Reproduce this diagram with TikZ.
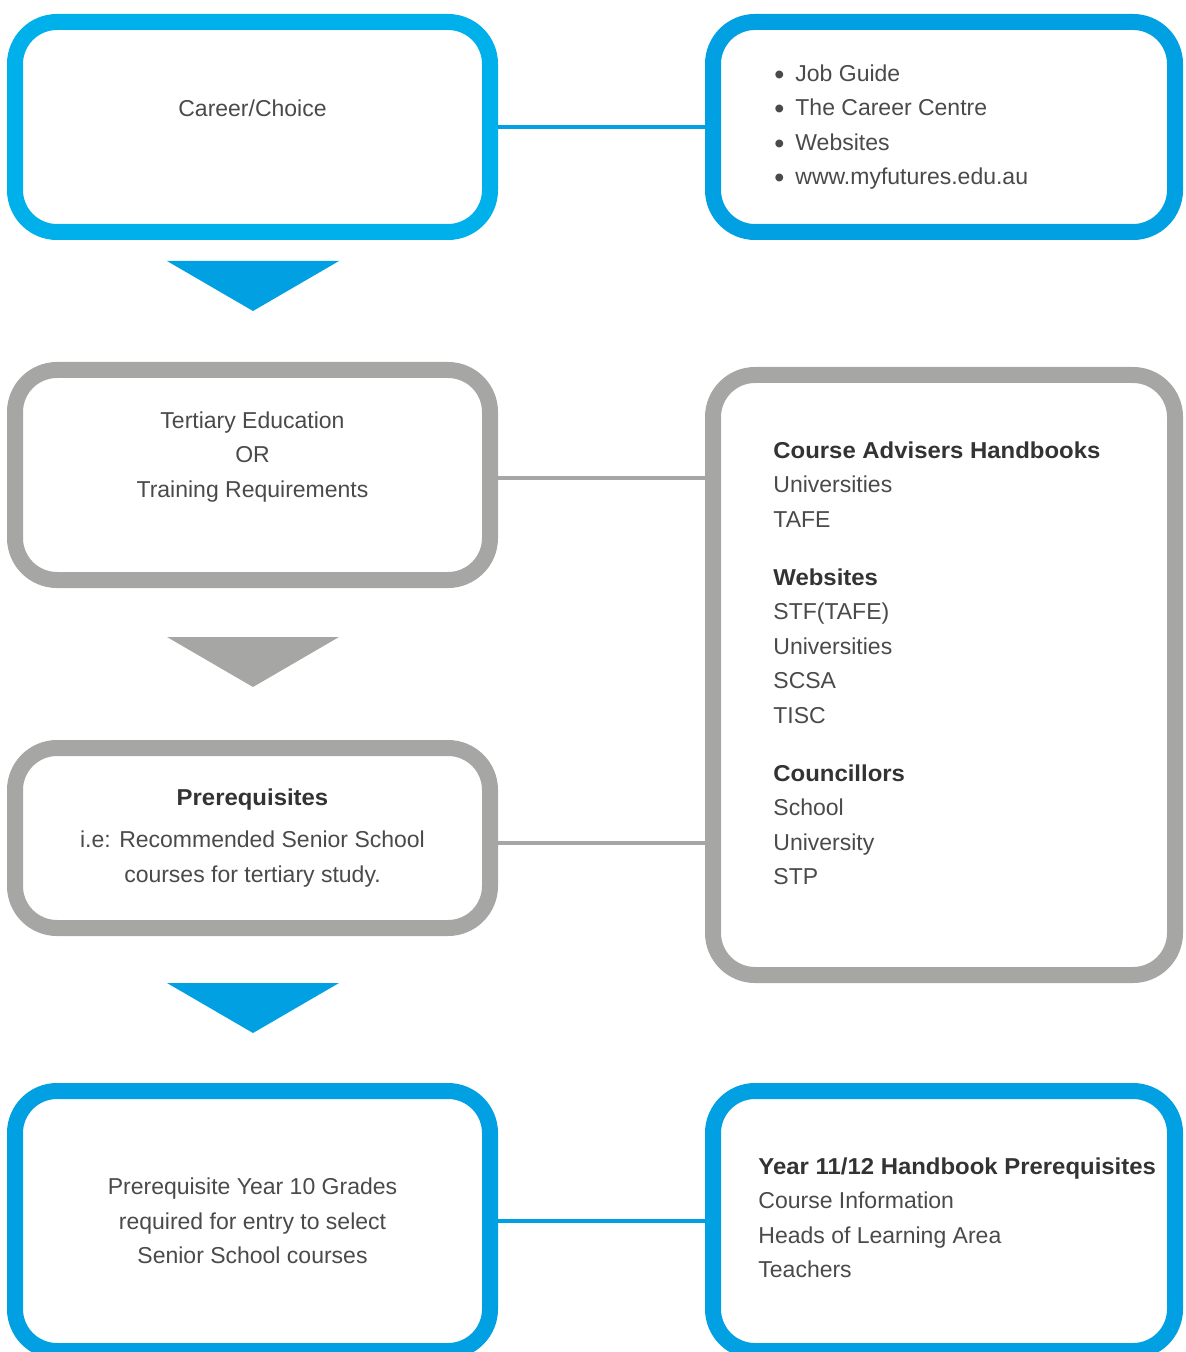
\documentclass[tikz,border=0pt]{standalone}
\usepackage{fontspec}
\setmainfont{Liberation Sans}[BoldFeatures={FakeStretch=1.04}]
\usetikzlibrary{calc}

\definecolor{cyanA}{RGB}{0,176,234}
\definecolor{blueA}{RGB}{0,160,227}
\definecolor{greyA}{RGB}{166,166,165}
\definecolor{textA}{RGB}{74,74,74}
\definecolor{textB}{RGB}{51,51,51}

\newcommand{\bul}{\makebox[10.5pt][l]{\raisebox{-0.25ex}{\scalebox{1.25}{\textbullet}}}}
\newcommand{\hd}[1]{{\color{textB}\bfseries #1}}

\begin{document}
\begin{tikzpicture}[x=0.5pt, y=-0.5pt,
    box/.style={draw, line width=8pt, rounded corners=21pt, fill=white, inner sep=0pt,
                text=textA, align=center, font=\fontsize{11.5}{17.25}\selectfont},
    list/.style={inner sep=0pt, text=textA, align=left, font=\fontsize{11.5}{17.25}\selectfont},
    link/.style={line width=2pt}]
    \useasboundingbox (0, 0) rectangle (1186, 1352);

    % left column
    \node[box, draw=cyanA, minimum width=237.5pt, minimum height=105pt] (career) at (252.5, 127) {};
    \node[box, draw=greyA, minimum width=237.5pt, minimum height=105pt] (tertiary) at (252.5, 475) {};
    \node[box, draw=greyA, minimum width=237.5pt, minimum height=90pt] (prereq) at (252.5, 838)
        {\hd{Prerequisites}\\[4pt] i.e: Recommended Senior School\\courses for tertiary study.};
    \node[box, draw=blueA, minimum width=237.5pt, minimum height=130pt] (grades) at (252.5, 1221)
        {Prerequisite Year 10 Grades\\required for entry to select\\Senior School courses};

    \node[list, align=center] (careertext) at ($(career)+(0, -19)$) {Career/Choice};
    \node[list, align=center] (tertiarytext) at ($(tertiary)+(0, -18)$)
        {Tertiary Education\\OR\\Training Requirements};

    % right column
    \node[box, draw=blueA, minimum width=231pt, minimum height=105pt] (guide) at (944, 127) {};
    \node[box, draw=greyA, minimum width=231pt, minimum height=300pt] (sources) at (944, 675) {};
    \node[box, draw=blueA, minimum width=231pt, minimum height=130pt] (handbook) at (944, 1221) {};

    \node[list, anchor=west] (guidetext) at (774, 127)
        {\bul Job Guide\\ \bul The Career Centre\\ \bul Websites\\ \bul www.myfutures.edu.au};
    \node[list, anchor=north west] (sourcetext) at (773, 441)
        {\hd{Course Advisers Handbooks}\\ Universities\\ TAFE\\[11.75pt]
         \hd{Websites}\\ STF(TAFE)\\ Universities\\ SCSA\\ TISC\\[11.75pt]
         \hd{Councillors}\\ School\\ University\\ STP};
    \node[list, anchor=west] (handbooktext) at (758, 1218)
        {\hd{Year 11/12 Handbook Prerequisites}\\ Course Information\\ Heads of Learning Area\\ Teachers};

    % links
    \draw[link, blueA] (career.east) -- (guide.west);
    \draw[link, greyA] ($(tertiary.east)+(0, 3)$) -- ($(tertiary.east -| sources.west)+(0, 3)$);
    \draw[link, greyA] ($(prereq.east)+(0, 5)$) -- ($(prereq.east -| sources.west)+(0, 5)$);
    \draw[link, blueA] (grades.east) -- (handbook.west);

    % down arrows
    \fill[blueA] (167, 261) -- (339, 261) -- (253, 311) -- cycle;
    \fill[greyA] (167, 637) -- (339, 637) -- (253, 687) -- cycle;
    \fill[blueA] (167, 983) -- (339, 983) -- (253, 1033) -- cycle;
\end{tikzpicture}
\end{document}
